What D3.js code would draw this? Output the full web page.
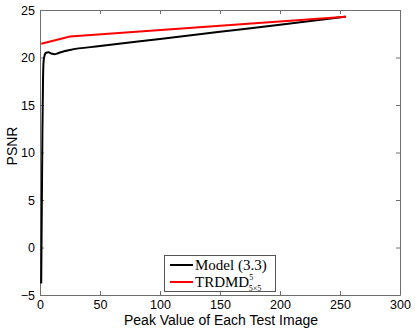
<!DOCTYPE html>
<html>
<head>
<meta charset="utf-8">
<script src="https://cdn.jsdelivr.net/npm/d3@7"></script>
<style>
body { margin: 0; background: #fff; }
</style>
</head>
<body>
<div id="chart"></div>
<script>
// peak values and PSNR
var modelX = [1, 1.5, 2, 2.5, 3, 4, 5, 7, 10, 12, 15, 20, 25, 50, 100, 150, 200, 255];
var modelY = [-3.8, 4, 12, 17.5, 19.6, 20.3, 20.5, 20.55, 20.4, 20.35, 20.45, 20.65, 20.8, 21.2, 21.95, 22.7, 23.45, 24.3];
var trdmdX = [1, 25, 255];
var trdmdY = [21.45, 22.2, 24.3];
var xTicks = [0, 50, 100, 150, 200, 250, 300];
var yTicks = [-5, 0, 5, 10, 15, 20, 25];

var svg = d3.select("#chart").append("svg").attr("width", 415).attr("height", 330);
var x = d3.scaleLinear().domain([0, 300]).range([40, 400]);
var y = d3.scaleLinear().domain([-5, 25]).range([295, 10]);
var font = "Liberation Sans, Arial, sans-serif";

var gx = svg.append("g").attr("transform", "translate(0,295)")
  .call(d3.axisBottom(x).tickValues(xTicks).tickSizeInner(-4).tickSizeOuter(0).tickPadding(5));
var gxTop = svg.append("g").attr("transform", "translate(0,10)")
  .call(d3.axisTop(x).tickValues(xTicks).tickSizeInner(-4).tickSizeOuter(0).tickFormat(""));
var gy = svg.append("g").attr("transform", "translate(40,0)")
  .call(d3.axisLeft(y).tickValues(yTicks).tickSizeInner(-4).tickSizeOuter(0).tickPadding(5)
    .tickFormat(function(d){ return d < 0 ? "\u2212" + Math.abs(d) : d; }));
var gyRight = svg.append("g").attr("transform", "translate(400,0)")
  .call(d3.axisRight(y).tickValues(yTicks).tickSizeInner(-4).tickSizeOuter(0).tickFormat(""));

[gx, gxTop, gy, gyRight].forEach(function(g){
  g.selectAll("path, line").attr("stroke", "#6e6e6e");
  g.selectAll("text").attr("fill", "#000").style("font-family", font).style("font-size", "12.5px");
});

var line = d3.line().x(function(d){ return x(d[0]); }).y(function(d){ return y(d[1]); });

svg.append("path").datum(d3.zip(modelX, modelY))
  .attr("d", line.curve(d3.curveMonotoneX)).attr("fill", "none")
  .attr("stroke", "#000").attr("stroke-width", 2);
svg.append("path").datum(d3.zip(trdmdX, trdmdY))
  .attr("d", line.curve(d3.curveLinear)).attr("fill", "none")
  .attr("stroke", "#ff0000").attr("stroke-width", 2);

svg.append("text").attr("x", 221).attr("y", 325).attr("text-anchor", "middle")
  .style("font-family", font).style("font-size", "14px").text("Peak Value of Each Test Image");
svg.append("text").attr("transform", "translate(17,146) rotate(-90)").attr("text-anchor", "middle")
  .style("font-family", font).style("font-size", "14px").text("PSNR");

// legend
var lg = svg.append("g");
lg.append("rect").attr("x", 164.5).attr("y", 255.5).attr("width", 111).attr("height", 36)
  .attr("fill", "#fff").attr("stroke", "#555");
var serif = "Liberation Serif, Times New Roman, serif";
lg.append("line").attr("x1", 170).attr("x2", 193).attr("y1", 265).attr("y2", 265)
  .attr("stroke", "#000").attr("stroke-width", 2);
lg.append("line").attr("x1", 170).attr("x2", 193).attr("y1", 282).attr("y2", 282)
  .attr("stroke", "#ff0000").attr("stroke-width", 2);
lg.append("text").attr("x", 195).attr("y", 270).style("font-family", serif).style("font-size", "15px")
  .text("Model (3.3)");
var t2 = lg.append("text").attr("x", 195).attr("y", 287).style("font-family", serif).style("font-size", "15px");
t2.append("tspan").text("TRDMD");
t2.append("tspan").attr("dy", -7).style("font-size", "8px").text("5");
t2.append("tspan").attr("dx", -4.5).attr("dy", 11).style("font-size", "8px").text("5\u00d75");
</script>
</body>
</html>
